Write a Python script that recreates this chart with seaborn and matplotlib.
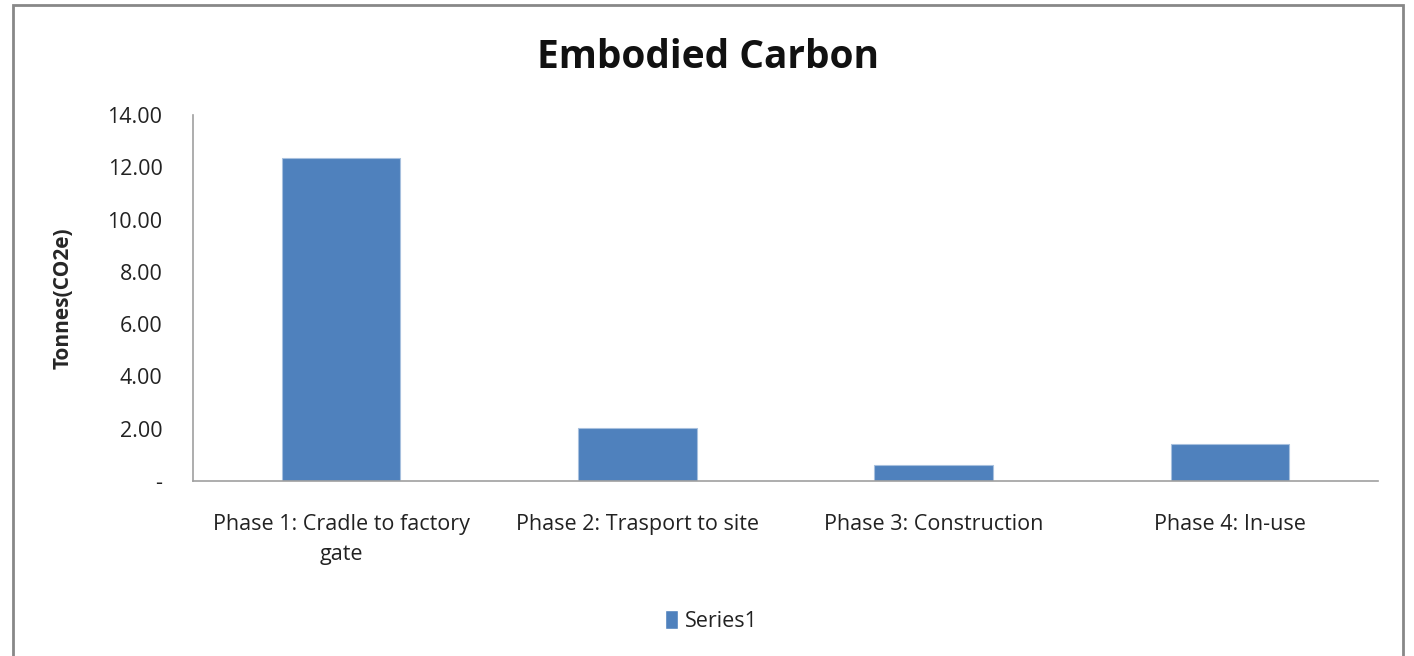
import matplotlib
matplotlib.use("Agg")
import matplotlib.pyplot as plt
import seaborn as sns
import pandas as pd
from matplotlib.patches import Rectangle, Patch
from matplotlib.ticker import FuncFormatter, MultipleLocator

categories = ["Phase 1: Cradle to factory\ngate", "Phase 2: Trasport to site",
              "Phase 3: Construction", "Phase 4: In-use"]
values = [12.36, 2.03, 0.61, 1.42]
series_name = "Series1"

sns.set_theme(style="white")
plt.rcParams['font.family'] = ['Open Sans', 'DejaVu Sans']

df = pd.DataFrame({"cat": categories, "val": values})
color = "#4f81bd"

fig = plt.figure(figsize=(14.14, 6.56), dpi=100)
ax = fig.add_axes([0.1365, 0.2668, 0.838, 0.5579])
sns.barplot(data=df, x="cat", y="val", color=color, width=0.4, ax=ax,
            edgecolor="#a7c0de", linewidth=0.8, saturation=1)
ax.set_ylim(0, 14)
ax.yaxis.set_major_locator(MultipleLocator(2))
ax.yaxis.set_major_formatter(FuncFormatter(lambda v, p: "-" if abs(v) < 1e-9 else f"{v:.2f}"))
ax.set_xlabel("")
ax.set_ylabel("Tonnes(CO2e)", fontsize=15, fontweight="bold", labelpad=24)
ax.tick_params(axis="y", labelsize=15.5, length=0, pad=22, labelcolor="#222222")
ax.tick_params(axis="x", labelsize=15.5, length=0, pad=23.5, labelcolor="#222222")
for lbl in ax.get_xticklabels():
    lbl.set_linespacing(1.6)
for s in ["top", "right"]:
    ax.spines[s].set_visible(False)
for s in ["left", "bottom"]:
    ax.spines[s].set_color("#a0a0a0")
    ax.spines[s].set_linewidth(1.2)

fig.text(0.501, 0.912, "Embodied Carbon", ha="center", va="center", fontsize=28,
         fontweight="bold", color="#111111")
fig.legend(handles=[Patch(facecolor=color, label=series_name)], loc="center",
           bbox_to_anchor=(0.503, 0.053), frameon=False, fontsize=15.5,
           handlelength=0.6, handleheight=1.0, handletextpad=0.3,
           labelcolor="#222222")
fig.patches.append(Rectangle((13 / 1414, -0.05), (1403 - 13) / 1414, 1 - 5 / 656 + 0.05,
                             transform=fig.transFigure, fill=False, edgecolor="#888888",
                             linewidth=2, figure=fig))
fig.savefig("out.png", dpi=100)
